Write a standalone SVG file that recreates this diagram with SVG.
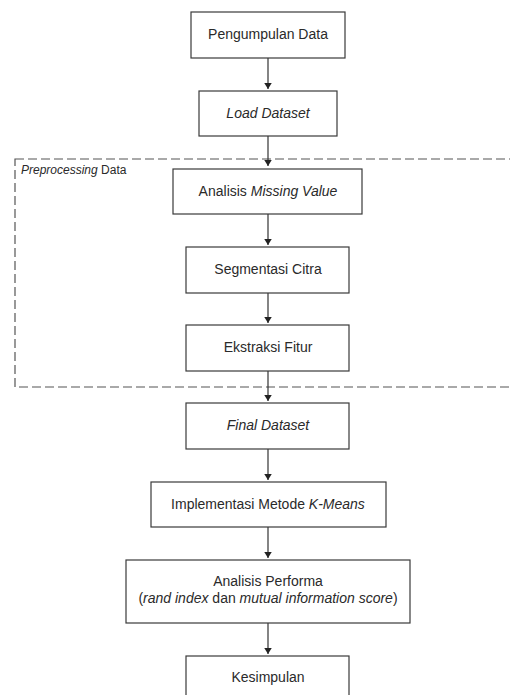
<svg xmlns="http://www.w3.org/2000/svg" width="510" height="695" viewBox="0 0 510 695">
<style>
.box{fill:#fff;stroke:#3a3a3a;stroke-width:1.2}
.t{font-family:"Liberation Sans",Arial,sans-serif;font-size:14px;fill:#2a2a2a;text-anchor:middle}
.lbl{font-family:"Liberation Sans",Arial,sans-serif;font-size:12px;fill:#2a2a2a}
.it{font-style:italic}
.c{stroke:#333;stroke-width:1.2;fill:none;marker-end:url(#ah)}
.grp{fill:none;stroke:#555;stroke-width:1.2;stroke-dasharray:9 4}
</style>
<defs>
<marker id="ah" viewBox="0 0 8 10" refX="8" refY="5" markerWidth="6" markerHeight="7.5" orient="auto" markerUnits="userSpaceOnUse">
<path d="M0,0 L8,5 L0,10 z" fill="#222"/>
</marker>
</defs>
<rect width="510" height="695" fill="#fff"/>
<g id="group-preprocessing">
<rect class="grp" x="15" y="159" width="510" height="228"/>
<text class="lbl" x="21" y="174"><tspan class="it">Preprocessing</tspan> Data</text>
</g>
<g id="connectors">
<line class="c" x1="268" y1="58" x2="268" y2="89"/>
<line class="c" x1="268" y1="136" x2="268" y2="166"/>
<line class="c" x1="268" y1="214" x2="268" y2="245"/>
<line class="c" x1="268" y1="293" x2="268" y2="323"/>
<line class="c" x1="268" y1="371" x2="268" y2="401"/>
<line class="c" x1="268" y1="449" x2="268" y2="480"/>
<line class="c" x1="268" y1="527" x2="268" y2="558"/>
<line class="c" x1="268" y1="623" x2="268" y2="654"/>
</g>
<g id="n1"><rect class="box" x="191" y="12" width="154" height="46"/><text class="t" x="268" y="39">Pengumpulan Data</text></g>
<g id="n2"><rect class="box" x="199" y="91" width="138" height="45"/><text class="t it" x="268" y="118">Load Dataset</text></g>
<g id="n3"><rect class="box" x="173" y="169" width="189" height="45"/><text class="t" x="268" y="196">Analisis <tspan class="it">Missing Value</tspan></text></g>
<g id="n4"><rect class="box" x="186" y="247" width="163" height="46"/><text class="t" x="268" y="274">Segmentasi Citra</text></g>
<g id="n5"><rect class="box" x="186" y="325" width="163" height="46"/><text class="t" x="268" y="352">Ekstraksi Fitur</text></g>
<g id="n6"><rect class="box" x="186" y="403" width="163" height="46"/><text class="t it" x="268" y="430">Final Dataset</text></g>
<g id="n7"><rect class="box" x="151" y="482" width="235" height="45"/><text class="t" x="268" y="509">Implementasi Metode <tspan class="it">K-Means</tspan></text></g>
<g id="n8"><rect class="box" x="126" y="560" width="284" height="63"/><text class="t" x="268" y="586">Analisis Performa</text><text class="t" x="268" y="603">(<tspan class="it">rand index</tspan> dan <tspan class="it">mutual information score</tspan>)</text></g>
<g id="n9"><rect class="box" x="186" y="656" width="163" height="46"/><text class="t" x="268" y="682">Kesimpulan</text></g>
</svg>
